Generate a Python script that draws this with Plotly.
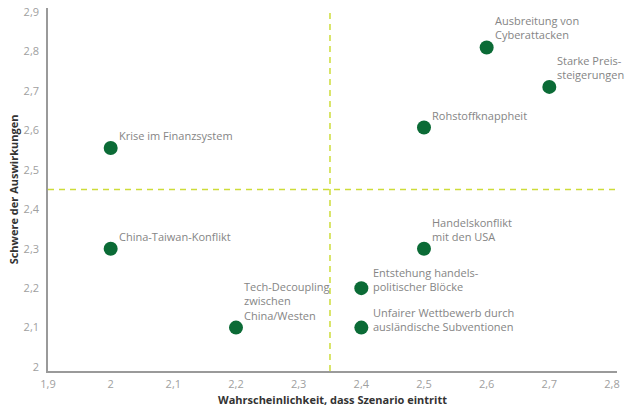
import plotly.graph_objects as go

# Data
scenarios = [
    "Krise im Finanzsystem",
    "China-Taiwan-Konflikt",
    "Tech-Decoupling<br>zwischen<br>China/Westen",
    "Entstehung handels-<br>politischer Blöcke",
    "Unfairer Wettbewerb durch<br>ausländische Subventionen",
    "Handelskonflikt<br>mit den USA",
    "Rohstoffknappheit",
    "Ausbreitung von<br>Cyberattacken",
    "Starke Preis-<br>steigerungen",
]
wahrscheinlichkeit = [2.0, 2.0, 2.2, 2.4, 2.4, 2.5, 2.5, 2.6, 2.7]
schwere = [2.555, 2.3, 2.1, 2.2, 2.1, 2.3, 2.607, 2.81, 2.71]
threshold_x = 2.35
threshold_y = 2.45
x_ticks = [1.9, 2.0, 2.1, 2.2, 2.3, 2.4, 2.5, 2.6, 2.7, 2.8]
y_ticks = [2.0, 2.1, 2.2, 2.3, 2.4, 2.5, 2.6, 2.7, 2.8, 2.9]

# label placement: "above" = text up-right of marker, "right" = last line level with marker
placement = ["above", "above", "above", "right", "right", "above", "above", "above", "above"]

GREEN = "#0b6b36"
LINE = "#cddc39"
FONT = "Open Sans"

fig = go.Figure()

fig.add_trace(go.Scatter(
    x=wahrscheinlichkeit, y=schwere, mode="markers",
    marker=dict(size=14, color=GREEN, line=dict(width=0)),
    hoverinfo="skip", showlegend=False,
))

fig.add_shape(type="line", xref="x", yref="paper", x0=threshold_x, x1=threshold_x, y0=0, y1=1,
              line=dict(color=LINE, width=1.5, dash="6px,5px"))
fig.add_shape(type="line", xref="paper", yref="y", x0=0, x1=1, y0=threshold_y, y1=threshold_y,
              line=dict(color=LINE, width=1.5, dash="6px,5px"))

for name, xv, yv, pl in zip(scenarios, wahrscheinlichkeit, schwere, placement):
    if pl == "above":
        fig.add_annotation(x=xv, y=yv, text=name, showarrow=False, xanchor="left", yanchor="bottom",
                           align="left", xshift=6, yshift=3,
                           font=dict(family=FONT, size=11, color="#858585"))
    else:
        fig.add_annotation(x=xv, y=yv, text=name, showarrow=False, xanchor="left", yanchor="bottom",
                           align="left", xshift=10, yshift=-8,
                           font=dict(family=FONT, size=11, color="#858585"))

# y axis title placed as rotated annotation
fig.add_annotation(xref="paper", yref="paper", x=-0.06, y=0.5, xanchor="center", yanchor="middle",
                   text="<b>Schwere der Auswirkungen</b>", textangle=-90, showarrow=False,
                   font=dict(family=FONT, size=11, color="#333333"))

fig.add_annotation(xref="paper", yref="paper", x=-0.085, y=-0.125, yanchor="top", xanchor="left",
                   text="Quelle: Befragung", showarrow=False,
                   font=dict(family=FONT, size=10, color="#999999"))

fig.update_layout(
    width=630, height=412,
    margin=dict(l=48, r=13, t=8, b=41),
    paper_bgcolor="white", plot_bgcolor="white",
    separators=",.",
    font=dict(family=FONT, size=11, color="#a0a0a0"),
    xaxis=dict(range=[1.9, 2.808], tickvals=x_ticks, showgrid=False, zeroline=False,
               showline=True, linecolor="#9a9a9a", linewidth=1.5, ticks="",
               ticklabelstandoff=2, automargin=False,
               tickfont=dict(family=FONT, size=11, color="#a0a0a0"),
               title=dict(text="<b>Wahrscheinlichkeit, dass Szenario eintritt</b>",
                          font=dict(family=FONT, size=11, color="#333333"), standoff=6)),
    yaxis=dict(range=[1.99, 2.91], tickvals=y_ticks, showgrid=False, zeroline=False,
               showline=True, linecolor="#9a9a9a", linewidth=1.5, ticks="",
               ticklabelstandoff=5, automargin=False,
               tickfont=dict(family=FONT, size=11, color="#a0a0a0")),
)

fig.write_html("out.html")
